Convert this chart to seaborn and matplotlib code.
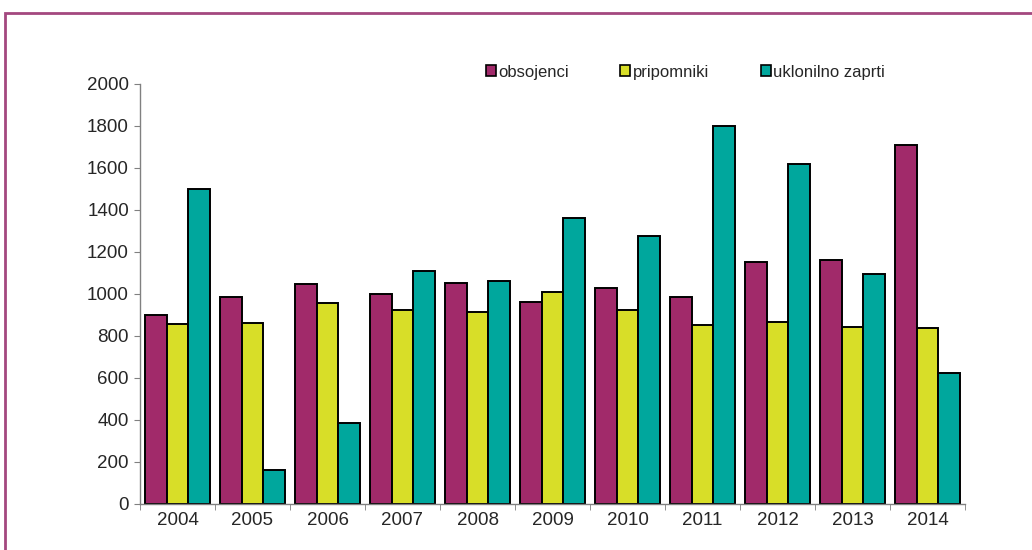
import numpy as np
import pandas as pd
import matplotlib
matplotlib.use("Agg")
import matplotlib.pyplot as plt
import seaborn as sns
from matplotlib.patches import Rectangle

# data
years = ["2004", "2005", "2006", "2007", "2008", "2009", "2010", "2011", "2012", "2013", "2014"]
obsojenci = [898, 985, 1047, 1001, 1051, 960, 1027, 988, 1152, 1163, 1710]
pripomniki = [856, 860, 956, 922, 913, 1008, 922, 852, 868, 842, 840]
uklonilno_zaprti = [1502, 160, 386, 1110, 1064, 1360, 1277, 1800, 1619, 1097, 622]
series = ["obsojenci", "pripomniki", "uklonilno zaprti"]
colors = ["#A12A6A", "#D8DE28", "#00A79D"]

df = pd.DataFrame({
    "leto": years * 3,
    "vrednost": obsojenci + pripomniki + uklonilno_zaprti,
    "serija": [series[0]] * 11 + [series[1]] * 11 + [series[2]] * 11,
})

sns.set_style("white")
plt.rcParams["font.family"] = ["Liberation Sans", "DejaVu Sans"]

fig = plt.figure(figsize=(10.32, 5.5), dpi=100)
ax = fig.add_axes([140 / 1032, 1 - 504 / 550, 825 / 1032, 420 / 550])

sns.barplot(data=df, x="leto", y="vrednost", hue="serija", palette=colors, saturation=1,
            width=0.86, edgecolor="black", linewidth=1.4, ax=ax, legend=False)

ax.set_ylim(0, 2000)
ax.set_xlim(-0.5, 10.5)
ax.set_yticks(range(0, 2001, 200))
ax.set_xlabel("")
ax.set_ylabel("")
for s in ["top", "right"]:
    ax.spines[s].set_visible(False)
for s in ["left", "bottom"]:
    ax.spines[s].set_color("#808080")
    ax.spines[s].set_linewidth(1.0)
ax.tick_params(axis="y", which="major", direction="out", length=4, color="#808080",
               labelsize=13.5, pad=4, left=True)
ax.tick_params(axis="x", which="major", length=0, labelsize=13.5, pad=6)
ax.set_xticks(np.arange(-0.5, 11, 1), minor=True)
ax.tick_params(axis="x", which="minor", direction="out", length=4, color="#808080", bottom=True)

handles = [Rectangle((0, 0), 1, 1, facecolor=c, edgecolor="black", linewidth=1.2) for c in colors]
fig.legend(handles, series, loc="center left", bbox_to_anchor=(479 / 1032, 1 - 72 / 550),
           ncol=3, frameon=False, fontsize=12, handlelength=0.6, handleheight=0.6,
           handletextpad=0.15, columnspacing=3.1, borderaxespad=0)

# purple frame around the figure
fig.patches.append(Rectangle((5 / 1032, -0.1), 1.2, 1 - 13 / 550 + 0.1, transform=fig.transFigure,
                             fill=False, edgecolor="#A3487F", linewidth=2))

fig.savefig("out.png", dpi=100)
